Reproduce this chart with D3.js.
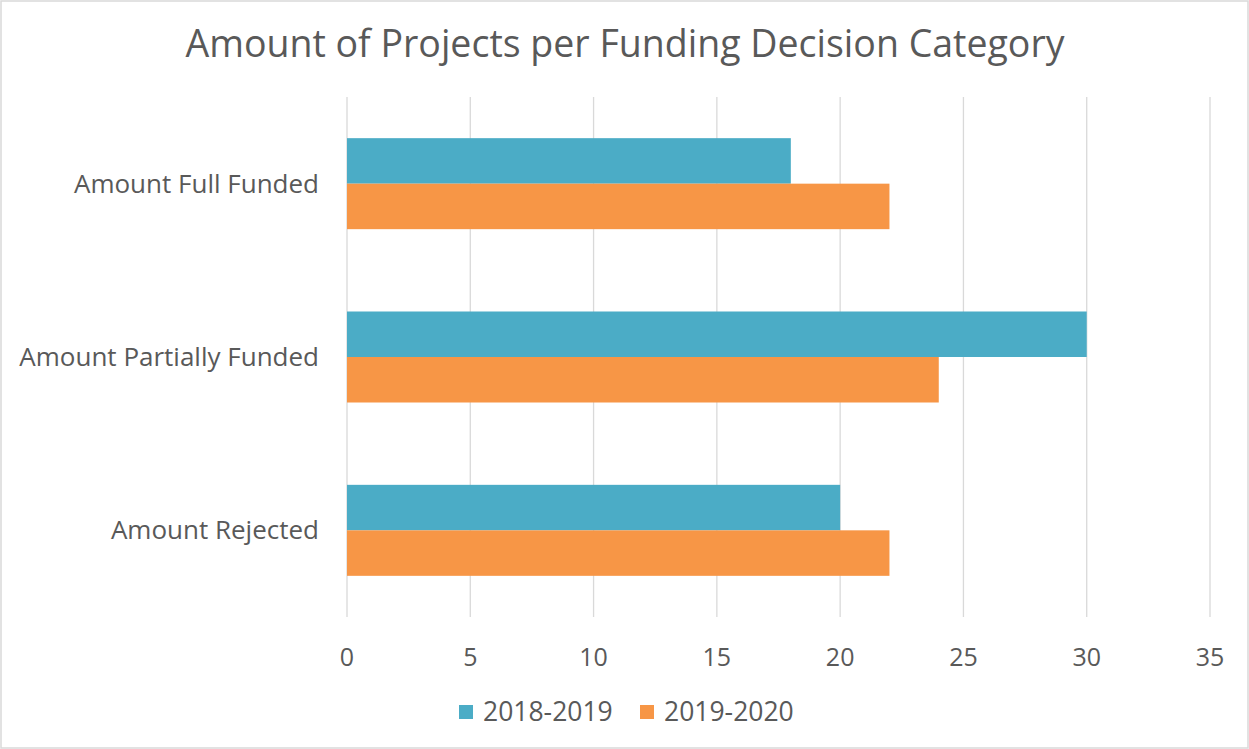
<!DOCTYPE html>
<html>
<head>
<meta charset="utf-8">
<script src="https://cdn.jsdelivr.net/npm/d3@7"></script>
<style>
  body { margin: 0; background: #fff; }
  text { font-family: "Open Sans", "Noto Sans", sans-serif; fill: #595959; }
</style>
</head>
<body>
<div id="chart_div"></div>
<script>
const categories = ["Amount Full Funded", "Amount Partially Funded", "Amount Rejected"];
const series = ["2018-2019", "2019-2020"];
const values2018 = [18, 30, 20];
const values2019 = [22, 24, 22];
const xTicks = [0, 5, 10, 15, 20, 25, 30, 35];
const colors = ["#4bacc6", "#f79646"];

const width = 1249;
const height = 749;
const plotLeft = 347, plotRight = 1210, plotTop = 97, plotBottom = 617;

const svg = d3.select("#chart_div")
    .append("svg")
    .attr("width", width)
    .attr("height", height);

svg.append("rect")
    .attr("x", 1).attr("y", 1)
    .attr("width", width - 2).attr("height", height - 2)
    .attr("fill", "#fff")
    .attr("stroke", "#d9d9d9")
    .attr("stroke-width", 1.5);

svg.append("text")
    .attr("x", 625)
    .attr("y", 57)
    .attr("text-anchor", "middle")
    .style("font-size", "37.5px")
    .text("Amount of Projects per Funding Decision Category");

const x = d3.scaleLinear().domain([0, 35]).range([plotLeft, plotRight]);
const y = d3.scaleBand().domain(categories).range([plotTop, plotBottom]).paddingInner(0.475).paddingOuter(0.2375);
const ySub = d3.scaleBand().domain(series).range([0, y.bandwidth()]);

// gridlines
svg.append("g")
    .selectAll("line")
    .data(xTicks)
    .enter()
    .append("line")
    .attr("x1", d => x(d)).attr("x2", d => x(d))
    .attr("y1", plotTop).attr("y2", plotBottom)
    .attr("stroke", "#d9d9d9")
    .attr("stroke-width", 1.3);

const rows = categories.map((c, i) => ({ cat: c, vals: [values2018[i], values2019[i]] }));

svg.append("g")
    .selectAll("g")
    .data(rows)
    .enter()
    .append("g")
    .attr("transform", d => `translate(0,${y(d.cat)})`)
    .selectAll("rect")
    .data(d => d.vals.map((v, j) => ({ s: series[j], v: v, c: colors[j] })))
    .enter()
    .append("rect")
    .attr("x", x(0))
    .attr("y", d => ySub(d.s))
    .attr("width", d => x(d.v) - x(0))
    .attr("height", ySub.bandwidth())
    .attr("fill", d => d.c);

// category labels
svg.append("g")
    .selectAll("text")
    .data(categories)
    .enter()
    .append("text")
    .attr("x", 319)
    .attr("y", d => y(d) + y.bandwidth() / 2)
    .attr("dy", "0.35em")
    .attr("text-anchor", "end")
    .style("font-size", "26px")
    .text(d => d);

// x tick labels
svg.append("g")
    .selectAll("text")
    .data(xTicks)
    .enter()
    .append("text")
    .attr("x", d => x(d))
    .attr("y", 657)
    .attr("dy", "0.35em")
    .attr("text-anchor", "middle")
    .style("font-size", "25px")
    .text(d => d);

// legend
const legendX = [459, 640];
const legend = svg.append("g");
series.forEach((s, i) => {
    legend.append("rect")
        .attr("x", legendX[i]).attr("y", 705)
        .attr("width", 14).attr("height", 14)
        .attr("fill", colors[i]);
    legend.append("text")
        .attr("x", legendX[i] + 24)
        .attr("y", 712)
        .attr("dy", "0.35em")
        .style("font-size", "26.5px")
        .text(s);
});
</script>
</body>
</html>
